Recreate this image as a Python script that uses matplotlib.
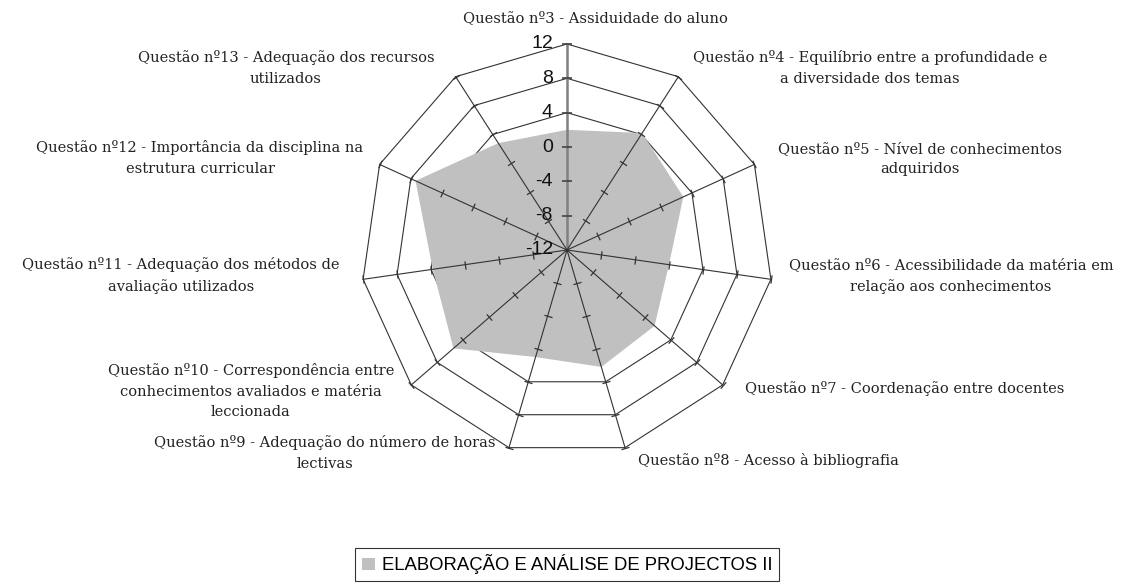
import numpy as np
import matplotlib
matplotlib.use("Agg")
import matplotlib.pyplot as plt
from matplotlib.path import Path
from matplotlib.markers import MarkerStyle
from matplotlib.transforms import Affine2D
from matplotlib.patches import Patch

# ---- data ----
categories = [
    "Questão nº3 - Assiduidade do aluno",
    "Questão nº4 - Equilíbrio entre a profundidade e\na diversidade dos temas",
    "Questão nº5 - Nível de conhecimentos\nadquiridos",
    "Questão nº6 - Acessibilidade da matéria em\nrelação aos conhecimentos",
    "Questão nº7 - Coordenação entre docentes",
    "Questão nº8 - Acesso à bibliografia",
    "Questão nº9 - Adequação do número de horas\nlectivas",
    "Questão nº10 - Correspondência entre\nconhecimentos avaliados e matéria\nleccionada",
    "Questão nº11 - Adequação dos métodos de\navaliação utilizados",
    "Questão nº12 - Importância da disciplina na\nestrutura curricular",
    "Questão nº13 - Adequação dos recursos\nutilizados",
]
values = [2.0, 4.2, 2.9, 0.0, 1.5, 2.2, 1.0, 5.5, 3.8, 7.4, 2.8]
series_name = "ELABORAÇÃO E ANÁLISE DE PROJECTOS II"
r_ticks = [-12, -8, -4, 0, 4, 8, 12]
grid_levels = [4, 8, 12]

# label centres in pixels (x from left, y from top) - layout only
label_pos = [(595, 18), (870, 68), (920, 159), (951, 276), (905, 388),
             (768, 461), (325, 453), (251, 391), (181, 276), (200, 158),
             (286, 68)]

W, H = 1122, 587
fig = plt.figure(figsize=(W / 100, H / 100), dpi=100)

cx, cy, R = 567, 250, 206
ax = fig.add_axes([(cx - R) / W, (H - cy - R) / H, 2 * R / W, 2 * R / H],
                  projection="polar")
ax.set_theta_zero_location("N")
ax.set_theta_direction(-1)
ax.set_ylim(-12, 12)
ax.grid(False)
ax.spines["polar"].set_visible(False)
ax.set_xticks([])
ax.set_yticks([])
ax.patch.set_alpha(0)

n = len(categories)
theta = np.linspace(0, 2 * np.pi, n, endpoint=False)
theta_c = np.append(theta, theta[0])

line_col = "#333333"

# polygon grid
for lev in grid_levels:
    ax.plot(theta_c, [lev] * (n + 1), color=line_col, lw=0.8, zorder=1,
            clip_on=False)

# filled series
ax.fill(theta_c, values + [values[0]], color="#c0c0c0", lw=0, zorder=2)

# spokes with cross ticks
tick_r = [t for t in r_ticks if t > -12]
for i, th in enumerate(theta):
    deg = np.degrees(th)
    mk = MarkerStyle(Path([(-1, 0), (1, 0)]),
                     transform=Affine2D().rotate_deg(-deg))
    if i == 0:
        ax.plot([th, th], [-12, 12], color="#808080", lw=1.8, zorder=3,
                clip_on=False)
        ax.plot([th] * len(tick_r), tick_r, ls="none", marker=mk,
                markersize=7, markeredgewidth=1.2, markeredgecolor="#444444",
                zorder=4, clip_on=False)
    else:
        ax.plot([th, th], [-12, 12], color=line_col, lw=0.8, zorder=3,
                clip_on=False)
        ax.plot([th] * len(tick_r), tick_r, ls="none", marker=mk,
                markersize=6, markeredgewidth=0.9, markeredgecolor=line_col,
                zorder=4, clip_on=False)

# radial tick labels on the vertical axis
for t in r_ticks:
    ax.annotate(str(t), xy=(0, t), xytext=(-14, 0), textcoords="offset pixels",
                ha="right", va="center", fontsize=14,
                family="Liberation Sans", color="#111111", zorder=5,
                annotation_clip=False)

# category labels
for lab, (px, py) in zip(categories, label_pos):
    fig.text(px / W, 1 - py / H, lab, ha="center", va="center",
             fontsize=10.5, family="DejaVu Serif", color="#222222",
             linespacing=1.6)

# legend
handle = Patch(facecolor="#c0c0c0", edgecolor="none")
leg = fig.legend([handle], [series_name], loc="upper center",
                 bbox_to_anchor=(cx / W, 1 - 548 / H), frameon=True,
                 fancybox=False, edgecolor="black",
                 prop={"family": "Liberation Sans", "size": 13.3},
                 handlelength=0.7, handleheight=0.7, handletextpad=0.4,
                 borderpad=0.35, borderaxespad=0)
leg.get_frame().set_linewidth(0.8)

fig.savefig("out.png", dpi=100)
